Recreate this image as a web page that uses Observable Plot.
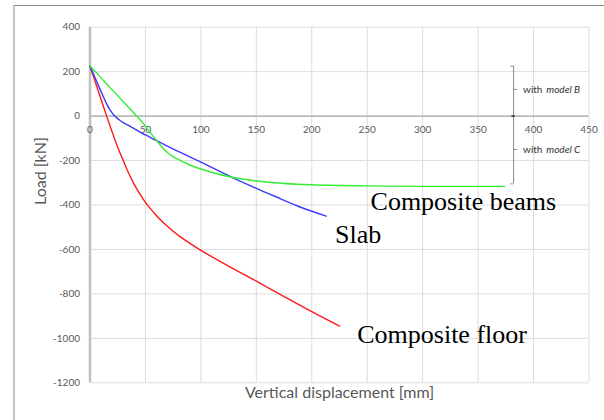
<!DOCTYPE html>
<html>
<head>
<meta charset="utf-8">
<script src="https://cdn.jsdelivr.net/npm/d3@7"></script>
<script src="https://cdn.jsdelivr.net/npm/@observablehq/plot@0.6"></script>
<style>
  html, body { margin: 0; padding: 0; background: #fff; overflow: hidden; }
  #frame { position: absolute; left: 13px; top: 5px; width: 589px; height: 440px;
           border-top: 1.5px solid #8c8c8c; border-left: 2px solid #c4c4c4; border-right: 1px solid #d0d0d0; }
  #chart { position: absolute; left: 0; top: 0; }
</style>
</head>
<body>
<div id="frame"></div>
<div id="chart"></div>
<script>
// Tick values
const xTicks = [0, 50, 100, 150, 200, 250, 300, 350, 400, 450];
const yTicks = [400, 200, 0, -200, -400, -600, -800, -1000, -1200];

// Composite floor (red)
const floorX = [0, 5, 10, 15, 20, 25, 30, 35, 40, 45, 50, 60, 70, 80, 100, 125, 150, 175, 200, 225];
const floorY = [225, 150, 75, 0, -72, -140, -200, -258, -308, -350, -388, -448, -497, -538, -604, -675, -743, -812, -880, -945];

// Slab (blue)
const slabX = [0, 5, 10, 15, 18, 22, 26, 30, 37, 50, 60, 80, 100, 130, 150, 172, 190, 213];
const slabY = [225, 168, 110, 55, 28, 2, -15, -29, -48, -85, -110, -160, -207, -280, -325, -372, -410, -450];

// Composite beams (green)
const beamsX = [0, 10, 20, 30, 40, 45, 50, 55, 60, 65, 70, 75, 80, 90, 100, 125, 150, 175, 200, 250, 300, 374];
const beamsY = [225, 172, 118, 65, 12, -15, -45, -78, -110, -140, -165, -182, -196, -220, -238, -272, -292, -303, -309, -314, -316, -316];

// Labels
const seriesNames = ["Composite floor", "Slab", "Composite beams"];
const seriesLabelX = [241, 221, 253];
const seriesLabelY = [-985, -535, -385];

// Bracket annotation (model B / model C)
const bracketX = 382;
const bracketTop = 225, bracketBottom = -305;
const bracketTicksY = [120, -150];
const bracketWith = ["with", "with"];
const bracketModels = ["model B", "model C"];
const bracketWithX = 390.5, bracketModelX = 411.5;

const xLabel = "Vertical displacement [mm]";
const yLabel = "Load [kN]";

const rows = [];
floorX.forEach((x, i) => rows.push({s: "Composite floor", x, y: floorY[i]}));
slabX.forEach((x, i) => rows.push({s: "Slab", x, y: slabY[i]}));
beamsX.forEach((x, i) => rows.push({s: "Composite beams", x, y: beamsY[i]}));

const colors = {"Composite floor": "#ff1a1a", "Slab": "#3b3bff", "Composite beams": "#33ee33"};
const labels = seriesNames.map((n, i) => ({n, x: seriesLabelX[i], y: seriesLabelY[i]}));

const gray = "#595959";

const chart = Plot.plot({
  width: 604, height: 420,
  marginLeft: 89.5, marginRight: 15.5, marginTop: 26.7, marginBottom: 37.7,
  x: {domain: [0, 450], axis: null},
  y: {domain: [-1200, 400], axis: null},
  style: {background: "transparent", fontFamily: "Lato, sans-serif"},
  marks: [
    Plot.gridX(xTicks, {stroke: "#dcdcdc", strokeOpacity: 1, strokeWidth: 1}),
    Plot.gridY(yTicks, {stroke: "#dcdcdc", strokeOpacity: 1, strokeWidth: 1}),
    Plot.ruleY([0], {stroke: "#a8a8a8", strokeWidth: 1.2}),
    Plot.ruleX([0], {stroke: "#c0c0c0", strokeWidth: 2.5}),
    Plot.text(yTicks, {x: 0, y: d => d, text: d => String(d), textAnchor: "end", dx: -10, fill: gray, fontSize: 10}),
    Plot.text(xTicks, {x: d => d, y: 0, text: d => String(d), dy: 14, fill: gray, fontSize: 10}),
    Plot.line(rows, {x: "x", y: "y", z: "s", stroke: d => colors[d.s], strokeWidth: 1.4, curve: "catmull-rom"}),
    // bracket
    Plot.ruleX([bracketX], {y1: bracketTop, y2: bracketBottom, stroke: "#8a8a8a", strokeWidth: 1}),
    Plot.ruleY([bracketTop, bracketBottom], {x1: bracketX - 2.5, x2: bracketX, stroke: "#8a8a8a"}),
    Plot.ruleY(bracketTicksY, {x1: bracketX, x2: bracketX + 3.5, stroke: "#8a8a8a"}),
    Plot.ruleY([0], {x1: bracketX - 1.5, x2: bracketX + 1.5, stroke: "#333", strokeWidth: 1.5}),
    Plot.text(bracketTicksY, {x: bracketWithX, y: d => d, text: (d, i) => bracketWith[i], textAnchor: "start", fill: "#333", fontSize: 10}),
    Plot.text(bracketTicksY, {x: bracketModelX, y: d => d, text: (d, i) => bracketModels[i], textAnchor: "start", fill: "#333", fontSize: 10, fontStyle: "italic"}),
    // series labels
    Plot.text(labels, {x: "x", y: "y", text: "n", textAnchor: "start", fill: "#000", fontSize: 26, fontFamily: "Liberation Serif, Times New Roman, serif"}),
    // axis titles
    Plot.text([yLabel], {frameAnchor: "left", dx: -49.5, rotate: -90, fill: gray, fontSize: 16}),
    Plot.text([xLabel], {frameAnchor: "bottom", dy: 14.7, fill: gray, fontSize: 16})
  ]
});
document.getElementById("chart").appendChild(chart);
</script>
</body>
</html>
